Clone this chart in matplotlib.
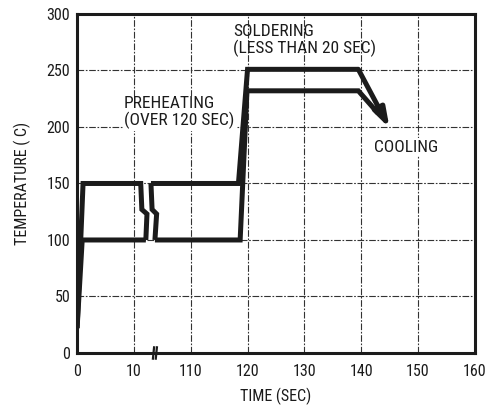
import numpy as np
from matplotlib import pyplot as plt

plt.rcParams['font.family'] = ['Roboto Condensed', 'DejaVu Sans']

ink = '#1b1b1b'
fs = 11.5
fs_note = 12.5

# broken time axis: 0-10 s, break, 110-160 s
tick_times = [0, 10, 110, 120, 130, 140, 150, 160]
tick_labels = ['0', '10', '110', '120', '130', '140', '150', '160']
temp_ticks = [0, 50, 100, 150, 200, 250, 300]

# left part of the profile (before the break)
upper_a_t = [0, 1.05, 22, 24, 33, 31]
upper_a_T = [22, 150, 150, 127, 123, 100]
lower_a_t = [0, 0.9, 31]
lower_a_T = [22, 100, 100]

# right part of the profile (after the break)
break_b_t = [40, 42, 50, 47]
break_b_T = [150, 127, 123, 100]
upper_b_t = [40, 118.4, 120, 139.5]
upper_b_T = [150, 150, 251, 251]
lower_b_t = [47, 118.7, 119.9, 139.5, 143.0]
lower_b_T = [100, 100, 232, 232, 212]
cool_t = [139.5, 145.0]
cool_T = [251, 199]


def pos(t):
    t = np.asarray(t, dtype=float)
    return np.where(t <= 10, t, np.where(t <= 110, 10 + (t - 10) / 10, t - 90))


fig = plt.figure(figsize=(4.91, 4.07), dpi=100)
ax = fig.add_axes([0.157, 0.1327, 0.81, 0.833])

lw = 3.6
for tt, TT in [(upper_a_t, upper_a_T), (lower_a_t, lower_a_T),
               (break_b_t, break_b_T), (upper_b_t, upper_b_T),
               (lower_b_t, lower_b_T)]:
    ax.plot(pos(tt), TT, color=ink, lw=lw, solid_joinstyle='miter',
            solid_capstyle='butt', zorder=3)

ax.annotate('', xy=(pos(cool_t[1]), cool_T[1]), xytext=(pos(cool_t[0]), cool_T[0]),
            arrowprops=dict(arrowstyle='-|>,head_length=1.1,head_width=0.35',
                            lw=lw, color=ink, shrinkA=0, shrinkB=0), zorder=3)

ax.set_xlim(0, 70)
ax.set_ylim(0, 300)
ax.set_xticks(pos(tick_times))
ax.set_xticklabels(tick_labels)
ax.set_yticks(temp_ticks)
ax.tick_params(length=0, labelsize=fs, colors=ink)
ax.tick_params(axis='x', pad=8)
ax.tick_params(axis='y', pad=5)

ax.grid(True, color='#333333', lw=0.8, linestyle=(0, (6, 1.5, 1.5, 1.5)))
ax.set_axisbelow(True)
for s in ax.spines.values():
    s.set_linewidth(2.2)
    s.set_color(ink)

# axis break mark
for x0 in (13.35, 13.85):
    ax.plot([x0, x0 + 0.2], [-5, 5], color=ink, lw=1.6, clip_on=False, zorder=4)

ax.text(pos(117.4), 291, 'SOLDERING\n(LESS THAN 20 SEC)', fontsize=fs_note,
        ha='left', va='top', color=ink, linespacing=1.05, zorder=2)
ax.text(pos(8.25), 227, 'PREHEATING\n(OVER 120 SEC)', fontsize=fs_note,
        ha='left', va='top', color=ink, linespacing=1.05, zorder=2,
        bbox=dict(facecolor='white', edgecolor='none', pad=1))
ax.text(pos(142.3), 182, 'COOLING', fontsize=fs_note, ha='left', va='center',
        color=ink, zorder=2, bbox=dict(facecolor='white', edgecolor='none', pad=1))

ax.set_xlabel('TIME (SEC)', fontsize=fs, color=ink, labelpad=6)
ax.set_ylabel('TEMPERATURE ( C)', fontsize=fs, color=ink, labelpad=11)

fig.savefig('out.png', dpi=100)
